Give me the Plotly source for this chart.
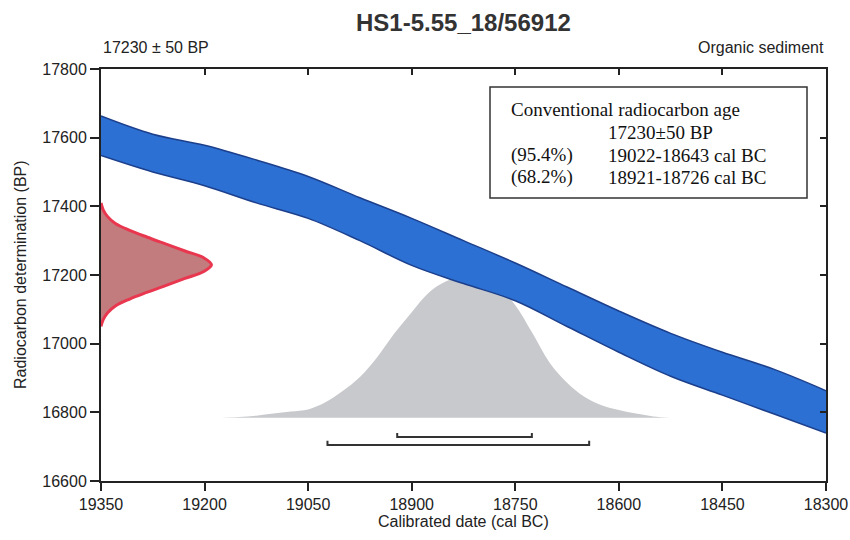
import plotly.graph_objects as go

# ---------------- data ----------------
band_x = [19350, 19275, 19200, 19125, 19050, 18975, 18900, 18825, 18750,
          18675, 18600, 18525, 18450, 18375, 18300]
band_upper = [17663, 17610, 17578, 17535, 17487, 17425, 17365, 17300, 17235,
              17165, 17095, 17030, 16975, 16925, 16863]
band_lower = [17548, 17500, 17460, 17410, 17365, 17300, 17228, 17175, 17125,
              17050, 16975, 16905, 16850, 16795, 16740]

# radiocarbon measurement distribution (relative probability vs BP)
rc_bp = [17050, 17070, 17090, 17110, 17130, 17150, 17170, 17190, 17210, 17230,
         17250, 17270, 17290, 17310, 17330, 17350, 17370, 17390, 17410]
rc_prob = [0.0, 0.02, 0.06, 0.13, 0.26, 0.42, 0.59, 0.76, 0.93, 1.0,
           0.93, 0.76, 0.59, 0.42, 0.26, 0.13, 0.06, 0.02, 0.0]

# calibrated distribution (relative probability vs cal BC)
cal_x = [19175, 19150, 19125, 19100, 19075, 19050, 19025, 19000, 18975, 18950,
         18925, 18900, 18875, 18850, 18825, 18800, 18775, 18750, 18725, 18700,
         18675, 18650, 18625, 18600, 18575, 18550, 18525]
cal_prob = [0.0, 0.005, 0.015, 0.03, 0.045, 0.06, 0.11, 0.19, 0.29, 0.43,
            0.60, 0.75, 0.89, 0.97, 1.0, 0.99, 0.93, 0.80, 0.60, 0.39,
            0.25, 0.15, 0.09, 0.055, 0.03, 0.01, 0.0]

range_95 = [19022, 18643]
range_68 = [18921, 18726]

x_ticks = [19350, 19200, 19050, 18900, 18750, 18600, 18450, 18300]
y_ticks = [16600, 16800, 17000, 17200, 17400, 17600, 17800]
x_ticklabels = [str(v) for v in x_ticks]
y_ticklabels = [str(v) for v in y_ticks]

title = "HS1-5.55_18/56912"
left_note = "17230 ± 50 BP"
right_note = "Organic sediment"
box_lines = [
    ("Conventional radiocarbon age", ""),
    ("", "17230±50 BP"),
    ("(95.4%)", "19022-18643 cal BC"),
    ("(68.2%)", "18921-18726 cal BC"),
]

# ---------------- layout constants ----------------
W, H = 850, 540
L, R, T, B = 101, 826, 69, 481
XR = [19350, 18300]
YR = [16600, 17800]
rc_scale = 160        # years of x-width for peak of measurement curve
cal_base = 16784      # BP level of calibrated distribution baseline
cal_scale = 410       # BP height of calibrated peak
bar95_y, bar68_y, cap = 16705, 16728, 12

SANS = "Liberation Sans, Arial, sans-serif"
SERIF = "Liberation Serif, Times New Roman, serif"
INK = "#222222"


def px2paper(px, py):
    return (px - L) / (R - L), (B - py) / (B - T)


fig = go.Figure()

# calibrated distribution (grey)
fig.add_trace(go.Scatter(
    x=cal_x, y=[cal_base + p * cal_scale for p in cal_prob],
    mode="lines", line=dict(color="rgb(200,201,204)", width=0, shape="spline"),
    fill="toself", fillcolor="rgb(200,201,204)", hoverinfo="skip"))

# calibration curve band
fig.add_trace(go.Scatter(
    x=band_x, y=band_lower, mode="lines",
    line=dict(color="#1c3f8c", width=1.5, shape="spline"), hoverinfo="skip"))
fig.add_trace(go.Scatter(
    x=band_x, y=band_upper, mode="lines", fill="tonexty",
    fillcolor="#2b70d2",
    line=dict(color="#1c3f8c", width=1.5, shape="spline"), hoverinfo="skip"))

# measurement distribution (red)
fig.add_trace(go.Scatter(
    x=[XR[0] - p * rc_scale for p in rc_prob], y=rc_bp,
    mode="lines", fill="toself", fillcolor="rgb(194,124,126)",
    line=dict(color="#e8374f", width=3, shape="spline"), hoverinfo="skip"))

# range bars
for rng, yy in ((range_68, bar68_y), (range_95, bar95_y)):
    fig.add_trace(go.Scatter(
        x=[rng[0], rng[0], rng[1], rng[1]],
        y=[yy + cap, yy, yy, yy + cap],
        mode="lines", line=dict(color="#333333", width=2), hoverinfo="skip"))

# invisible trace for mirrored axes
fig.add_trace(go.Scatter(x=[XR[0]], y=[YR[0]], xaxis="x2", yaxis="y2",
                         mode="markers", marker=dict(opacity=0),
                         hoverinfo="skip"))

axis_common = dict(showgrid=False, zeroline=False, showline=True,
                   linecolor=INK, linewidth=2, tickcolor=INK, tickwidth=1.5,
                   automargin=False)

fig.update_layout(
    width=W, height=H,
    margin=dict(l=L, r=W - R, t=T, b=H - B, autoexpand=False),
    paper_bgcolor="white", plot_bgcolor="white",
    showlegend=False,
    font=dict(family=SANS, size=16, color=INK),
    xaxis=dict(range=XR, tickvals=x_ticks, ticktext=x_ticklabels,
               ticks="outside", ticklen=8,
               tickfont=dict(size=16, color=INK), **axis_common),
    yaxis=dict(range=YR, tickvals=y_ticks, ticktext=y_ticklabels,
               ticks="outside", ticklen=9,
               tickfont=dict(size=16, color=INK), **axis_common),
    xaxis2=dict(range=XR, tickvals=x_ticks, ticks="inside", ticklen=6,
                overlaying="x", side="top", showticklabels=False,
                **axis_common),
    yaxis2=dict(range=YR, tickvals=y_ticks, ticks="inside", ticklen=6,
                overlaying="y", side="right", showticklabels=False,
                **axis_common),
)

ann = []
ann.append(dict(text=f"<b>{title}</b>", x=0.5, y=1, xref="paper",
                yref="paper", xanchor="center", yanchor="middle",
                yshift=T - 22, showarrow=False,
                font=dict(size=24, color="#333333", family=SANS)))
ann.append(dict(text=left_note, x=0, y=1, xref="paper", yref="paper",
                xanchor="left", yanchor="middle", yshift=T - 47,
                showarrow=False, font=dict(size=16, color=INK)))
ann.append(dict(text=right_note, x=1, y=1, xref="paper", yref="paper",
                xanchor="right", yanchor="middle", yshift=T - 47,
                showarrow=False, font=dict(size=16, color=INK)))
ann.append(dict(text="Calibrated date (cal BC)", x=0.5, y=0, xref="paper",
                yref="paper", xanchor="center", yanchor="middle",
                yshift=-(521 - B), showarrow=False,
                font=dict(size=16, color=INK)))
ann.append(dict(text="Radiocarbon determination (BP)", x=0, y=0.5,
                xref="paper", yref="paper", xanchor="center",
                yanchor="middle", xshift=-(L - 20), textangle=-90,
                showarrow=False, font=dict(size=16, color=INK)))

# info box
bx0, by0 = px2paper(490, 198)
bx1, by1 = px2paper(807, 87)
fig.add_shape(type="rect", xref="paper", yref="paper", x0=bx0, y0=by0,
              x1=bx1, y1=by1, line=dict(color="#333333", width=1.5),
              fillcolor="rgba(255,255,255,0)", layer="above")
row_y = [110, 132, 155, 177]
for (c1, c2), py in zip(box_lines, row_y):
    for txt, px in ((c1, 509), (c2, 606)):
        if not txt:
            continue
        xp, yp = px2paper(px, py)
        ann.append(dict(text=txt, x=xp, y=yp, xref="paper", yref="paper",
                        xanchor="left", yanchor="middle", showarrow=False,
                        font=dict(family=SERIF, size=19, color="#111111")))

fig.update_layout(annotations=ann)
fig.write_html("out.html")
